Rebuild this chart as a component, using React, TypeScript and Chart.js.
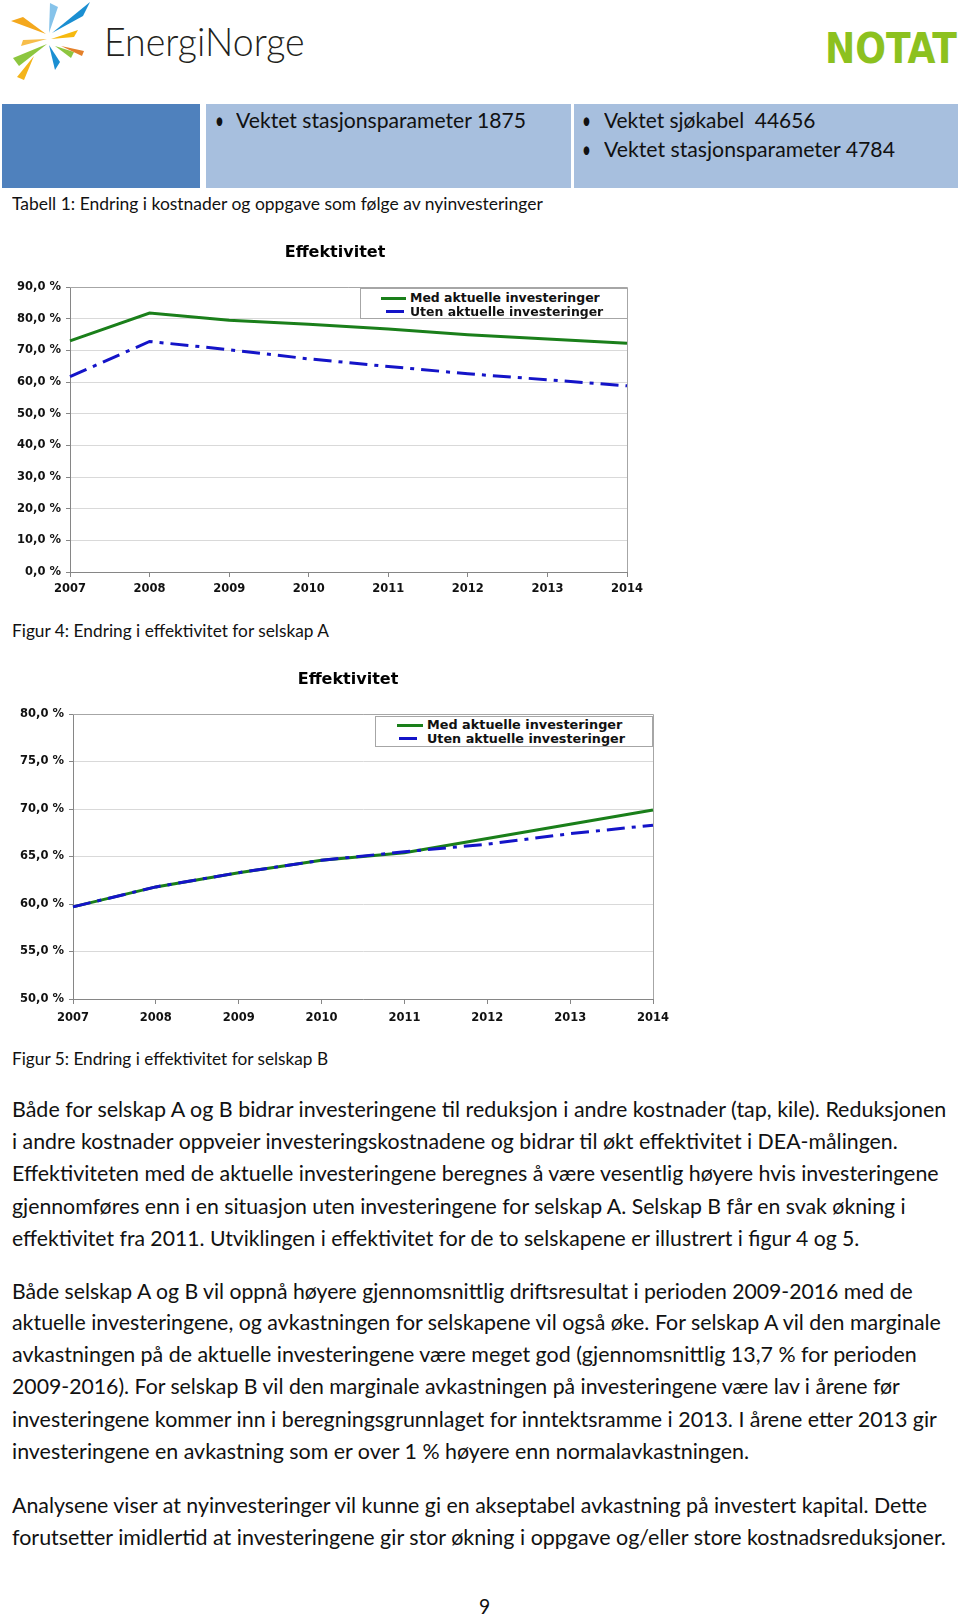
import React, { useEffect, useLayoutEffect, useRef, useState } from "react";
import Chart from "chart.js/auto";

// ---------- DATA ----------
const years = ["2007", "2008", "2009", "2010", "2011", "2012", "2013", "2014"];
const medA = [73.0, 81.8, 79.5, 78.2, 76.7, 74.9, 73.6, 72.2];
const utenA = [61.7, 72.8, 70.2, 67.3, 64.9, 62.6, 60.7, 58.8];
const medB = [59.7, 61.8, 63.3, 64.6, 65.4, 66.9, 68.4, 69.9];
const utenB = [59.7, 61.8, 63.3, 64.6, 65.5, 66.3, 67.4, 68.3];
const seriesLabels = ["Med aktuelle investeringer", "Uten aktuelle investeringer"];
const chartTitle = "Effektivitet";

const para1 = [
  "Både for selskap A og B bidrar investeringene til reduksjon i andre kostnader (tap, kile). Reduksjonen",
  "i andre kostnader oppveier investeringskostnadene og bidrar til økt effektivitet i DEA-målingen.",
  "Effektiviteten med de aktuelle investeringene beregnes å være vesentlig høyere hvis investeringene",
  "gjennomføres enn i en situasjon uten investeringene for selskap A. Selskap B får en svak økning i",
  "effektivitet fra 2011. Utviklingen i effektivitet for de to selskapene er illustrert i figur 4 og 5.",
];
const para2 = [
  "Både selskap A og B vil oppnå høyere gjennomsnittlig driftsresultat i perioden 2009-2016 med de",
  "aktuelle investeringene, og avkastningen for selskapene vil også øke. For selskap A vil den marginale",
  "avkastningen på de aktuelle investeringene være meget god (gjennomsnittlig 13,7 % for perioden",
  "2009-2016). For selskap B vil den marginale avkastningen på investeringene være lav i årene før",
  "investeringene kommer inn i beregningsgrunnlaget for inntektsramme i 2013. I årene etter 2013 gir",
  "investeringene en avkastning som er over 1 % høyere enn normalavkastningen.",
];
const para3 = [
  "Analysene viser at nyinvesteringer vil kunne gi en akseptabel avkastning på investert kapital. Dette",
  "forutsetter imidlertid at investeringene gir stor økning i oppgave og/eller store kostnadsreduksjoner.",
];

// layout of text lines (center y, right end x)
const para1Y = [1108, 1140, 1172, 1205, 1237];
const para1W = [946, 898, 939, 906, 859];
const para2Y = [1290, 1321, 1353, 1385, 1418, 1450];
const para2W = [913, 941, 917, 900, 937, 749];
const para3Y = [1504, 1536];
const para3W = [927, 946];

const GREEN = "#1a7f1a";
const BLUE = "#1414c8";
const TICK_FONT = { family: "DejaVu Sans", size: 11.5, weight: "bold" as const };
const BODY_FONT = "Lato, 'Open Sans', sans-serif";

function FitText({ x, y, w, size, family = BODY_FONT, weight = 400, color = "#111", children }: any) {
  const ref = useRef<HTMLSpanElement>(null);
  const [sx, setSx] = useState(1);
  useLayoutEffect(() => {
    const measure = () => {
      const el = ref.current;
      if (!el || !w) return;
      const nat = el.offsetWidth;
      if (nat > 0) setSx((w - x) / nat);
    };
    measure();
    (document as any).fonts?.ready?.then(measure);
  }, [w, x, children]);
  const lh = Math.round(size * 1.3);
  return (
    <span
      ref={ref}
      style={{
        position: "absolute",
        left: x,
        top: y - lh / 2,
        lineHeight: lh + "px",
        height: lh,
        whiteSpace: "nowrap",
        fontSize: size,
        fontFamily: family,
        fontWeight: weight,
        color,
        transform: `scaleX(${sx})`,
        transformOrigin: "0 50%",
      }}
    >
      {children}
    </span>
  );
}

const plotBorder = {
  id: "plotBorder",
  beforeDatasetsDraw(chart: any) {
    const { ctx, chartArea } = chart;
    const { left, right, top, bottom } = chartArea;
    ctx.save();
    ctx.strokeStyle = "#a6a6a6";
    ctx.lineWidth = 1;
    ctx.beginPath();
    ctx.moveTo(left, Math.round(top) + 0.5);
    ctx.lineTo(Math.round(right) + 0.5, Math.round(top) + 0.5);
    ctx.lineTo(Math.round(right) + 0.5, bottom);
    ctx.stroke();
    ctx.restore();
  },
};

function EffChart({ left, top, width, height, med, uten, min, max, step, yW, rW, xH, xPad, titleTop, titleBottom }: any) {
  const ref = useRef<HTMLCanvasElement>(null);
  useEffect(() => {
    if (!ref.current) return;
    const chart = new Chart(ref.current, {
      type: "line",
      data: {
        labels: years,
        datasets: [
          {
            label: seriesLabels[0],
            data: med,
            borderColor: GREEN,
            backgroundColor: GREEN,
            borderWidth: 3,
            pointRadius: 0,
            tension: 0,
            order: 1,
          },
          {
            label: seriesLabels[1],
            data: uten,
            borderColor: BLUE,
            backgroundColor: BLUE,
            borderWidth: 3,
            borderDash: [18, 7, 4, 7],
            pointRadius: 0,
            tension: 0,
            order: 0,
          },
        ],
      },
      options: {
        responsive: false,
        animation: false,
        devicePixelRatio: 1,
        layout: { padding: 0 },
        plugins: {
          legend: { display: false },
          tooltip: { enabled: false },
          title: {
            display: true,
            text: chartTitle,
            color: "#000",
            font: { family: "DejaVu Sans", size: 16, weight: "bold" },
            padding: { top: titleTop, bottom: titleBottom },
          },
        },
        scales: {
          x: {
            grid: { display: true, drawOnChartArea: false, drawTicks: true, tickLength: 5, color: "#868686" },
            border: { color: "#868686", width: 1 },
            ticks: { font: TICK_FONT, color: "#111", padding: xPad, maxRotation: 0, autoSkip: false },
            afterFit: (s: any) => {
              s.height = xH;
            },
          },
          y: {
            min,
            max,
            ticks: {
              stepSize: step,
              font: TICK_FONT,
              color: "#111",
              padding: 5,
              callback: (v: any) => Number(v).toFixed(1).replace(".", ",") + " %",
            },
            grid: { color: "#d9d9d9", tickLength: 4, tickColor: "#868686" },
            border: { color: "#868686", width: 1 },
            afterFit: (s: any) => {
              s.width = yW;
            },
          },
          yR: {
            position: "right",
            display: true,
            grid: { display: false, drawTicks: false },
            ticks: { display: false },
            border: { display: false },
            afterFit: (s: any) => {
              s.width = rW;
            },
          },
        },
      },
      plugins: [plotBorder],
    } as any);
    return () => chart.destroy();
  }, []);
  return (
    <canvas
      ref={ref}
      width={width}
      height={height}
      style={{ position: "absolute", left, top, width, height }}
    />
  );
}

function Legend({ x, y, w, h, textX, textEnd, row1, row2, greenX, blueX, size }: any) {
  return (
    <>
      <div
        style={{
          position: "absolute",
          left: x,
          top: y,
          width: w,
          height: h,
          border: "1px solid #a6a6a6",
          boxSizing: "border-box",
          background: "#fff",
        }}
      />
      <div style={{ position: "absolute", left: greenX[0], top: row1 - 1.5, width: greenX[1] - greenX[0], height: 3, background: GREEN }} />
      <div style={{ position: "absolute", left: blueX[0], top: row2 - 1.5, width: blueX[1] - blueX[0], height: 3, background: BLUE }} />
      <FitText x={textX} y={row1} w={textEnd} size={size} family="'DejaVu Sans', sans-serif" weight={700} color="#111">
        {seriesLabels[0]}
      </FitText>
      <FitText x={textX} y={row2} w={textEnd + 3} size={size} family="'DejaVu Sans', sans-serif" weight={700} color="#111">
        {seriesLabels[1]}
      </FitText>
    </>
  );
}

function Logo() {
  const rays: [string, string][] = [
    ["50,3 58,7 49,33", "#86c3ea"],
    ["90,2 83,16 52,33", "#1b8fd2"],
    ["11,21 23,17 46,34", "#f4a81d"],
    ["78,30 74,37 51,39", "#f6b90f"],
    ["21,46 23,40 47,39", "#f7bd4a"],
    ["19,66 13,58 47,44", "#8dc63f"],
    ["49,45 60,62 55,70", "#1b8fd2"],
    ["55,46 74,52 71,58", "#8dc63f"],
    ["61,46 84,51 82,56", "#e4802a"],
    ["34,56 24,80 17,77", "#f4b41a"],
  ];
  return (
    <svg width={100} height={90} style={{ position: "absolute", left: 0, top: 0 }}>
      {rays.map(([p, c], i) => (
        <polygon key={i} points={p} fill={c} />
      ))}
    </svg>
  );
}

export default function App() {
  return (
    <div style={{ position: "absolute", left: 0, top: 0, width: 960, height: 1615, background: "#fff", overflow: "hidden" }}>
      <Logo />
      <FitText x={104} y={41} w={305} size={39} weight={300} color="#231f20">
        EnergiNorge
      </FitText>
      <FitText
        x={825}
        y={48}
        w={957}
        size={42}
        family="'Liberation Sans Narrow', 'DejaVu Sans Condensed', 'Liberation Sans', 'DejaVu Sans', sans-serif"
        weight={700}
        color="#8cc11f"
      >
        NOTAT
      </FitText>

      {/* table */}
      <div style={{ position: "absolute", left: 2, top: 104, width: 198, height: 84, background: "#4f81bd" }} />
      <div style={{ position: "absolute", left: 206, top: 104, width: 365, height: 84, background: "#a7bfde" }} />
      <div style={{ position: "absolute", left: 574, top: 104, width: 384, height: 84, background: "#a7bfde" }} />
      <FitText x={215} y={119.5} w={224} size={24} color="#111">•</FitText>
      <FitText x={236} y={119.5} w={526} size={21} color="#111">Vektet stasjonsparameter 1875</FitText>
      <FitText x={582} y={119.5} w={591} size={24} color="#111">•</FitText>
      <FitText x={604} y={119.5} w={815} size={21} color="#111">Vektet sjøkabel&nbsp; 44656</FitText>
      <FitText x={582} y={148} w={591} size={24} color="#111">•</FitText>
      <FitText x={604} y={148} w={895} size={21} color="#111">Vektet stasjonsparameter 4784</FitText>

      <FitText x={12} y={204} w={543} size={17} color="#111">
        Tabell 1: Endring i kostnader og oppgave som følge av nyinvesteringer
      </FitText>

      {/* Figure 4 */}
      <EffChart
        left={0}
        top={230}
        width={670}
        height={370}
        med={medA}
        uten={utenA}
        min={0}
        max={90}
        step={10}
        yW={70}
        rW={43}
        xH={28}
        xPad={5}
        titleTop={13}
        titleBottom={24.8}
      />
      <Legend
        x={360}
        y={288}
        w={268}
        h={31}
        textX={410}
        textEnd={600}
        row1={298}
        row2={311.5}
        greenX={[381, 406]}
        blueX={[386, 404]}
        size={12}
      />
      <FitText x={12} y={631} w={329} size={17} color="#111">
        Figur 4: Endring i effektivitet for selskap A
      </FitText>

      {/* Figure 5 */}
      <EffChart
        left={0}
        top={645}
        width={696}
        height={385}
        med={medB}
        uten={utenB}
        min={50}
        max={80}
        step={5}
        yW={73}
        rW={43}
        xH={31}
        xPad={7}
        titleTop={25}
        titleBottom={24.8}
      />
      <Legend
        x={375}
        y={716}
        w={278}
        h={31}
        textX={427}
        textEnd={622}
        row1={725}
        row2={738.5}
        greenX={[397, 423]}
        blueX={[399, 417]}
        size={12.5}
      />
      <FitText x={12} y={1059} w={328} size={17} color="#111">
        Figur 5: Endring i effektivitet for selskap B
      </FitText>

      {para1.map((t, i) => (
        <FitText key={"a" + i} x={12} y={para1Y[i]} w={para1W[i]} size={21} color="#111">
          {t}
        </FitText>
      ))}
      {para2.map((t, i) => (
        <FitText key={"b" + i} x={12} y={para2Y[i]} w={para2W[i]} size={21} color="#111">
          {t}
        </FitText>
      ))}
      {para3.map((t, i) => (
        <FitText key={"c" + i} x={12} y={para3Y[i]} w={para3W[i]} size={21} color="#111">
          {t}
        </FitText>
      ))}
      <FitText x={479} y={1605} w={490} size={21} color="#111">
        9
      </FitText>
    </div>
  );
}
